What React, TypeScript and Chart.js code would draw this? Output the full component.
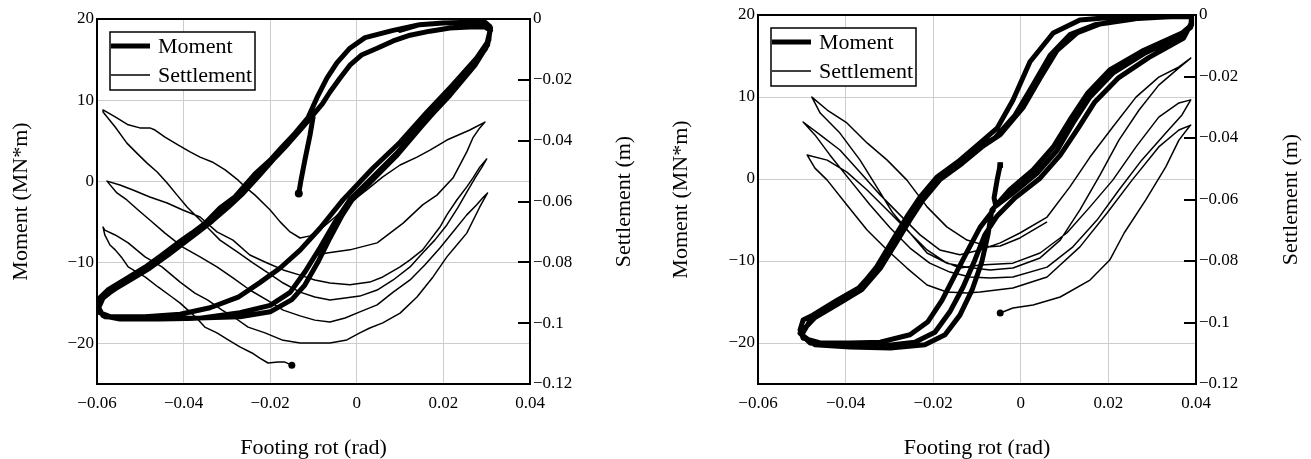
import { useEffect, useRef } from 'react';
import { Chart, registerables } from 'chart.js';

Chart.register(...registerables);

const FONT = '"Liberation Serif", "Times New Roman", serif';

const rotationTicks = [-0.06, -0.04, -0.02, 0, 0.02, 0.04];
const momentTicks = [-20, -10, 0, 10, 20];
const settlementTicks = [0, -0.02, -0.04, -0.06, -0.08, -0.1, -0.12];

const seriesLabels = ['Moment', 'Settlement'];

// ---------- Left test ----------
const leftMomentRot = [
  0.0100, 0.0145, 0.0199, 0.0261, 0.0296, 0.0307,
  0.0307, 0.0305, 0.0277, 0.0222, 0.0162, 0.0100, 0.0037, -0.0032, -0.0085, -0.0131, -0.0177, -0.0224, -0.0274, -0.0339, -0.0408, -0.0489, -0.0570, -0.0594, -0.0598,
  -0.0594, -0.0575, -0.0535, -0.0489, -0.0450, -0.0413, -0.0381, -0.0351, -0.0316, -0.0281, -0.0235, -0.0200, -0.0173, -0.0143, -0.0113, -0.0092, -0.0069, -0.0046, -0.0016, 0.0019, 0.0084, 0.0145, 0.0199, 0.0261, 0.0291, 0.0307,
  0.0309, 0.0302, 0.0273, 0.0215, 0.0157, 0.0095, 0.0035, -0.0016, -0.0050, -0.0085, -0.0120, -0.0154, -0.0200, -0.0270, -0.0362, -0.0455, -0.0547, -0.0586, -0.0596,
  -0.0586, -0.0565, -0.0524, -0.0478, -0.0436, -0.0402, -0.0367, -0.0334, -0.0297, -0.0263, -0.0224, -0.0189, -0.0159, -0.0131, -0.0104, -0.0080, -0.0062, -0.0039, -0.0016, 0.0012, 0.0047, 0.0084, 0.0123, 0.0169, 0.0215, 0.0261, 0.0296, 0.0309,
  0.0307, 0.0298, 0.0266, 0.0208, 0.0150, 0.0091, 0.0030, -0.0011, -0.0034, -0.0062, -0.0090, -0.0120, -0.0150, -0.0200, -0.0270, -0.0385, -0.0501, -0.0582, -0.0598,
  -0.0591, -0.0570, -0.0528, -0.0482, -0.0441, -0.0406, -0.0372, -0.0339, -0.0302, -0.0270, -0.0228, -0.0196, -0.0166, -0.0136, -0.0108, -0.0101, -0.0108, -0.0120, -0.0129, -0.0134,
];
const leftMomentVal = [
  18.6, 19.3, 19.5, 19.6, 19.6, 19.1,
  18.6, 17.4, 15.2, 11.9, 8.5, 4.8, 1.6, -2.3, -5.8, -8.5, -10.7, -12.5, -14.3, -15.6, -16.4, -16.7, -16.7, -16.2, -15.5,
  -14.4, -13.4, -12.1, -10.6, -9.1, -7.6, -6.4, -5.2, -3.3, -1.9, 0.9, 2.6, 4.2, 5.9, 7.8, 10.3, 12.7, 14.6, 16.4, 17.7, 18.6, 19.3, 19.5, 19.6, 19.6, 19.1,
  18.9, 16.8, 14.3, 10.6, 7.3, 3.6, 0.4, -2.3, -5.0, -8.2, -11.2, -13.7, -15.3, -16.2, -16.9, -17.0, -17.0, -16.6, -15.6,
  -14.4, -13.5, -12.2, -10.7, -9.1, -7.7, -6.3, -4.9, -3.2, -1.5, 0.8, 2.9, 4.6, 6.3, 8.0, 9.5, 11.0, 12.7, 14.3, 15.6, 16.4, 17.3, 18.0, 18.5, 18.9, 19.0, 19.0, 18.6,
  18.4, 16.4, 14.0, 10.3, 6.8, 3.1, -0.2, -2.3, -4.2, -7.0, -10.0, -12.8, -14.6, -16.1, -16.7, -16.9, -16.9, -16.7, -15.9,
  -14.6, -13.7, -12.2, -10.6, -9.1, -7.6, -6.3, -4.9, -3.3, -1.8, 0.8, 2.6, 4.3, 6.1, 7.7, 7.9, 5.7, 2.6, 0.1, -1.5,
];

const leftSettleRot = [
  -0.0092, -0.0069, -0.0016, 0.0047, 0.0107, 0.0152, 0.0185, 0.0222, 0.0254, 0.0268, 0.0284, 0.0296,
  0.0261, 0.0208, 0.0169, 0.0139, 0.0100, 0.0060, 0.0023, -0.0016, -0.0050, -0.0078, -0.0108, -0.0131, -0.0154, -0.0177, -0.0200, -0.0235, -0.0258, -0.0274, -0.0304, -0.0334, -0.0362, -0.0385, -0.0413, -0.0443, -0.0466, -0.0478, -0.0501, -0.0528, -0.0558, -0.0586,
  -0.0586, -0.0558, -0.0531, -0.0508, -0.0485, -0.0461, -0.0438, -0.0415, -0.0392, -0.0362, -0.0339, -0.0316, -0.0276, -0.0240, -0.0205, -0.0170, -0.0131, -0.0097, -0.0062, -0.0027, 0.0007, 0.0047, 0.0084, 0.0123, 0.0152, 0.0180, 0.0208, 0.0233, 0.0254, 0.0273, 0.0289, 0.0300,
  0.0284, 0.0268, 0.0254, 0.0231, 0.0208, 0.0192, 0.0169, 0.0152, 0.0123, 0.0100, 0.0060, 0.0030, -0.0016, -0.0062, -0.0097, -0.0131, -0.0170, -0.0207, -0.0247, -0.0286, -0.0323, -0.0362, -0.0402, -0.0438, -0.0478, -0.0517, -0.0547, -0.0577,
  -0.0554, -0.0531, -0.0505, -0.0478, -0.0443, -0.0402, -0.0362, -0.0323, -0.0286, -0.0247, -0.0207, -0.0170, -0.0131, -0.0097, -0.0062, -0.0027, 0.0007, 0.0047, 0.0084, 0.0123, 0.0157, 0.0192, 0.0222, 0.0254, 0.0277, 0.0291, 0.0302,
  0.0284, 0.0254, 0.0231, 0.0208, 0.0176, 0.0139, 0.0100, 0.0060, 0.0030, 0.0007, -0.0023, -0.0062, -0.0092, -0.0131, -0.0173, -0.0212, -0.0251, -0.0281, -0.0311, -0.0344, -0.0374, -0.0408, -0.0450, -0.0489, -0.0528, -0.0558, -0.0582, -0.0586,
  -0.0582, -0.0570, -0.0558, -0.0542, -0.0528, -0.0508, -0.0489, -0.0459, -0.0427, -0.0408, -0.0390, -0.0370, -0.0351, -0.0323, -0.0297, -0.0270, -0.0242, -0.0224, -0.0205, -0.0182, -0.0166, -0.0150,
];
const leftSettleVal = [
  -0.0776, -0.0769, -0.0759, -0.0736, -0.0671, -0.0611, -0.0579, -0.0523, -0.0437, -0.0391, -0.0358, -0.0339,
  -0.0365, -0.0398, -0.0431, -0.0454, -0.0480, -0.0519, -0.0562, -0.0605, -0.0651, -0.0684, -0.0713, -0.0720, -0.0700, -0.0667, -0.0628, -0.0579, -0.0552, -0.0530, -0.0496, -0.0470, -0.0454, -0.0437, -0.0414, -0.0388, -0.0365, -0.0358, -0.0358, -0.0348, -0.0322, -0.0299,
  -0.0306, -0.0355, -0.0408, -0.0441, -0.0473, -0.0503, -0.0539, -0.0579, -0.0618, -0.0661, -0.0694, -0.0727, -0.0766, -0.0802, -0.0835, -0.0868, -0.0898, -0.0914, -0.0924, -0.0917, -0.0911, -0.0891, -0.0858, -0.0815, -0.0769, -0.0727, -0.0677, -0.0621, -0.0569, -0.0523, -0.0487, -0.0460,
  -0.0487, -0.0523, -0.0552, -0.0595, -0.0644, -0.0684, -0.0727, -0.0759, -0.0792, -0.0815, -0.0848, -0.0865, -0.0874, -0.0868, -0.0858, -0.0842, -0.0825, -0.0802, -0.0776, -0.0727, -0.0700, -0.0651, -0.0628, -0.0605, -0.0585, -0.0562, -0.0546, -0.0533,
  -0.0572, -0.0595, -0.0628, -0.0661, -0.0704, -0.0750, -0.0782, -0.0815, -0.0851, -0.0891, -0.0924, -0.0957, -0.0976, -0.0990, -0.0996, -0.0983, -0.0963, -0.0940, -0.0898, -0.0858, -0.0809, -0.0753, -0.0700, -0.0644, -0.0611, -0.0588, -0.0572,
  -0.0618, -0.0704, -0.0743, -0.0782, -0.0848, -0.0914, -0.0967, -0.0999, -0.1016, -0.1032, -0.1055, -0.1065, -0.1065, -0.1065, -0.1055, -0.1032, -0.1013, -0.0983, -0.0957, -0.0924, -0.0901, -0.0865, -0.0815, -0.0782, -0.0736, -0.0710, -0.0694, -0.0684,
  -0.0710, -0.0743, -0.0759, -0.0786, -0.0815, -0.0832, -0.0848, -0.0881, -0.0914, -0.0934, -0.0957, -0.0983, -0.1013, -0.1032, -0.1055, -0.1078, -0.1098, -0.1115, -0.1131, -0.1128, -0.1128, -0.1138,
];

// ---------- Right test ----------
const rightMomentRot = [
  -0.0063, -0.0093, -0.0121, -0.0150, -0.0180, -0.0212, -0.0253, -0.0321, -0.0390, -0.0458, -0.0497, -0.0504,
  -0.0497, -0.0475, -0.0420, -0.0367, -0.0329, -0.0292, -0.0260, -0.0230, -0.0192, -0.0139, -0.0093, -0.0054, -0.0018, 0.0021, 0.0074, 0.0135, 0.0224, 0.0315, 0.0390,
  0.0390, 0.0372, 0.0292, 0.0222, 0.0169, 0.0131, 0.0090, 0.0044, -0.0013, -0.0054, -0.0082, -0.0105, -0.0132, -0.0162, -0.0196, -0.0242, -0.0321, -0.0413, -0.0481, -0.0504,
  -0.0470, -0.0413, -0.0363, -0.0321, -0.0285, -0.0253, -0.0224, -0.0185, -0.0134, -0.0089, -0.0047, 0.0005, 0.0044, 0.0083, 0.0128, 0.0181, 0.0247, 0.0338, 0.0390,
  0.0390, 0.0368, 0.0281, 0.0203, 0.0153, 0.0112, 0.0074, 0.0028, -0.0025, -0.0066, -0.0075, -0.0089, -0.0111, -0.0139, -0.0173, -0.0219, -0.0298, -0.0390, -0.0470, -0.0500,
  -0.0477, -0.0425, -0.0372, -0.0333, -0.0298, -0.0265, -0.0235, -0.0196, -0.0144, -0.0098, -0.0059, -0.0013, 0.0028, 0.0067, 0.0112, 0.0169, 0.0270, 0.0390,
  0.0388, 0.0361, 0.0285, 0.0210, 0.0158, 0.0119, 0.0083, 0.0037, -0.0018, -0.0057, -0.0061, -0.0054, -0.0047,
];
const rightMomentVal = [
  -3.8, -5.9, -8.7, -11.7, -14.8, -17.4, -19.0, -19.9, -20.0, -20.0, -19.4, -18.4,
  -17.2, -16.6, -14.8, -13.2, -10.7, -7.4, -4.6, -2.2, 0.2, 2.3, 4.4, 6.2, 9.6, 14.3, 17.8, 19.4, 19.8, 19.9, 20.0,
  19.1, 17.2, 14.8, 12.3, 9.4, 6.2, 2.9, 0.1, -2.3, -4.5, -6.8, -9.9, -13.2, -16.2, -18.7, -19.9, -20.4, -20.4, -20.0, -18.8,
  -16.9, -15.1, -13.5, -10.9, -7.8, -5.0, -2.6, -0.1, 1.9, 3.9, 5.4, 8.7, 12.3, 15.7, 17.8, 18.9, 19.5, 19.8, 19.8,
  18.8, 17.8, 15.7, 13.3, 10.5, 7.2, 3.9, 1.1, -1.3, -3.8, -6.8, -10.1, -13.5, -16.6, -19.0, -20.2, -20.6, -20.5, -20.2, -19.0,
  -16.9, -15.0, -13.4, -11.1, -8.0, -5.2, -2.6, -0.1, 1.9, 3.8, 5.0, 7.8, 11.5, 15.1, 17.6, 18.8, 19.6, 19.9,
  18.5, 17.3, 15.4, 12.9, 10.0, 6.8, 3.5, 0.7, -1.7, -3.3, -2.3, -0.1, 1.7,
];

const rightSettleRot = [
  0.0060, -0.0002, -0.0047, -0.0070, -0.0123, -0.0169, -0.0214, -0.0260, -0.0305, -0.0351, -0.0397, -0.0442, -0.0477,
  -0.0458, -0.0413, -0.0367, -0.0329, -0.0292, -0.0253, -0.0214, -0.0169, -0.0123, -0.0070, -0.0018, 0.0044, 0.0090, 0.0135, 0.0181, 0.0224, 0.0270, 0.0315, 0.0361, 0.0388,
  0.0361, 0.0315, 0.0263, 0.0210, 0.0158, 0.0112, 0.0060, -0.0002, -0.0047, -0.0093, -0.0139, -0.0185, -0.0230, -0.0276, -0.0321, -0.0367, -0.0413, -0.0458, -0.0497,
  -0.0470, -0.0436, -0.0390, -0.0344, -0.0298, -0.0253, -0.0208, -0.0162, -0.0116, -0.0070, -0.0018, 0.0060, 0.0119, 0.0174, 0.0224, 0.0276, 0.0331, 0.0368, 0.0388,
  0.0361, 0.0315, 0.0263, 0.0210, 0.0158, 0.0105, 0.0044, -0.0018, -0.0093, -0.0139, -0.0173, -0.0214, -0.0260, -0.0305, -0.0351, -0.0397, -0.0442, -0.0488,
  -0.0470, -0.0442, -0.0397, -0.0351, -0.0305, -0.0260, -0.0214, -0.0169, -0.0123, -0.0093, -0.0018, 0.0060, 0.0135, 0.0197, 0.0254, 0.0315, 0.0361, 0.0388,
  0.0384, 0.0361, 0.0331, 0.0285, 0.0236, 0.0203, 0.0158, 0.0090, 0.0028, -0.0018, -0.0047,
];
const rightSettleVal = [
  -0.0673, -0.0725, -0.0751, -0.0754, -0.0732, -0.0689, -0.0624, -0.0537, -0.0472, -0.0416, -0.0351, -0.0309, -0.0267,
  -0.0319, -0.0384, -0.0472, -0.0559, -0.0644, -0.0709, -0.0774, -0.0807, -0.0820, -0.0829, -0.0823, -0.0790, -0.0732, -0.0634, -0.0520, -0.0407, -0.0309, -0.0228, -0.0172, -0.0140,
  -0.0169, -0.0202, -0.0267, -0.0364, -0.0462, -0.0559, -0.0657, -0.0709, -0.0741, -0.0764, -0.0780, -0.0764, -0.0715, -0.0650, -0.0585, -0.0511, -0.0439, -0.0390, -0.0348,
  -0.0390, -0.0455, -0.0537, -0.0618, -0.0693, -0.0758, -0.0807, -0.0836, -0.0852, -0.0855, -0.0852, -0.0820, -0.0754, -0.0667, -0.0569, -0.0472, -0.0384, -0.0325, -0.0276,
  -0.0286, -0.0332, -0.0429, -0.0537, -0.0624, -0.0709, -0.0774, -0.0807, -0.0813, -0.0823, -0.0803, -0.0764, -0.0699, -0.0634, -0.0569, -0.0511, -0.0472, -0.0455,
  -0.0498, -0.0537, -0.0618, -0.0699, -0.0764, -0.0823, -0.0878, -0.0901, -0.0904, -0.0901, -0.0888, -0.0852, -0.0754, -0.0644, -0.0537, -0.0429, -0.0374, -0.0358,
  -0.0364, -0.0407, -0.0494, -0.0602, -0.0709, -0.0797, -0.0862, -0.0917, -0.0943, -0.0953, -0.0969,
];

function fmt(v: number): string {
  const r = Math.round(v * 1000) / 1000;
  if (r === 0) return '0';
  return String(r).replace('-', '\u2212');
}

function toPoints(xs: number[], ys: number[]) {
  return xs.map((x, i) => ({ x, y: ys[i] }));
}

const extrasPlugin = {
  id: 'extras',
  afterDraw(chart: any, _args: any, opts: any) {
    const { ctx, chartArea: a, scales } = chart;
    ctx.save();
    ctx.strokeStyle = '#000';
    // inner ticks of the right axis
    ctx.lineWidth = 2;
    const y2 = scales.y2;
    y2.ticks.forEach((t: any) => {
      const py = Math.round(y2.getPixelForValue(t.value));
      ctx.beginPath();
      ctx.moveTo(a.right - 12, py);
      ctx.lineTo(a.right, py);
      ctx.stroke();
    });
    // frame
    ctx.lineWidth = 2;
    ctx.strokeRect(a.left, a.top, a.right - a.left, a.bottom - a.top);
    // right axis title (reads bottom to top)
    ctx.fillStyle = '#000';
    ctx.font = `22px ${FONT}`;
    ctx.textAlign = 'center';
    ctx.textBaseline = 'middle';
    ctx.save();
    ctx.translate(opts.rightTitleX, (a.top + a.bottom) / 2);
    ctx.rotate(-Math.PI / 2);
    ctx.fillText(opts.rightTitle, 0, 0);
    ctx.restore();
    // legend box
    const bx = a.left + 13;
    const by = a.top + 13;
    const bw = 145;
    const bh = 58;
    ctx.fillStyle = '#fff';
    ctx.fillRect(bx, by, bw, bh);
    ctx.lineWidth = 1.5;
    ctx.strokeRect(bx, by, bw, bh);
    const ds = chart.data.datasets;
    const rows = [by + 14, by + 43];
    ds.forEach((d: any, i: number) => {
      ctx.beginPath();
      ctx.lineWidth = i === 0 ? 5 : 1.5;
      ctx.lineCap = 'butt';
      ctx.moveTo(bx + 1, rows[i]);
      ctx.lineTo(bx + 40, rows[i]);
      ctx.stroke();
      ctx.fillStyle = '#000';
      ctx.textAlign = 'left';
      ctx.textBaseline = 'middle';
      ctx.font = `22px ${FONT}`;
      ctx.fillText(d.label, bx + 48, rows[i] + 1);
    });
    ctx.restore();
  },
};

interface PanelProps {
  momentRot: number[];
  momentVal: number[];
  settleRot: number[];
  settleVal: number[];
  yWidth: number;
  y2Width: number;
  top: number;
  yTitlePad: number;
  rightTitleX: number;
  markerStyle: string;
}

function makeConfig(p: PanelProps): any {
  const nM = p.momentRot.length;
  const nS = p.settleRot.length;
  const tickFont = { family: FONT, size: 17 };
  const titleFont = { family: FONT, size: 22, lineHeight: 1 };
  const gridColor = '#cdcdcd';
  return {
    type: 'scatter',
    data: {
      datasets: [
        {
          label: seriesLabels[0],
          data: toPoints(p.momentRot, p.momentVal),
          yAxisID: 'y',
          showLine: true,
          borderColor: '#000',
          backgroundColor: '#000',
          borderWidth: 5,
          borderJoinStyle: 'round',
          borderCapStyle: 'round',
          tension: 0,
          pointRadius: (c: any) => (c.dataIndex === nM - 1 ? 4 : 0),
          pointStyle: p.markerStyle,
          pointBorderWidth: 0,
          pointBackgroundColor: '#000',
        },
        {
          label: seriesLabels[1],
          data: toPoints(p.settleRot, p.settleVal),
          yAxisID: 'y2',
          showLine: true,
          borderColor: '#000',
          backgroundColor: '#000',
          borderWidth: 1.5,
          borderJoinStyle: 'round',
          tension: 0,
          pointRadius: (c: any) => (c.dataIndex === nS - 1 ? 3.5 : 0),
          pointBorderWidth: 0,
          pointBackgroundColor: '#000',
        },
      ],
    },
    options: {
      responsive: false,
      maintainAspectRatio: false,
      animation: false,
      devicePixelRatio: 1,
      layout: { padding: { top: p.top, left: 0, right: 0, bottom: 0 } },
      plugins: {
        legend: { display: false },
        tooltip: { enabled: false },
        extras: { rightTitle: 'Settlement (m)', rightTitleX: p.rightTitleX },
      },
      scales: {
        x: {
          type: 'linear',
          min: -0.06,
          max: 0.04,
          afterBuildTicks: (s: any) => {
            s.ticks = rotationTicks.map((v) => ({ value: v }));
          },
          afterFit: (s: any) => {
            s.height = 75;
          },
          ticks: {
            autoSkip: false,
            maxRotation: 0,
            padding: 9,
            color: '#000',
            font: tickFont,
            callback: (v: any) => fmt(Number(v)),
          },
          grid: { color: gridColor, lineWidth: 1, drawTicks: false },
          border: { display: false },
          title: {
            display: true,
            text: 'Footing rot (rad)',
            color: '#000',
            font: titleFont,
            padding: { top: 0, bottom: 0 },
          },
        },
        y: {
          type: 'linear',
          position: 'left',
          min: -25,
          max: 20,
          afterBuildTicks: (s: any) => {
            s.ticks = momentTicks.map((v) => ({ value: v }));
          },
          afterFit: (s: any) => {
            s.width = p.yWidth;
          },
          ticks: {
            autoSkip: false,
            padding: 3,
            color: '#000',
            font: tickFont,
            callback: (v: any) => fmt(Number(v)),
          },
          grid: { color: gridColor, lineWidth: 1, drawTicks: false },
          border: { display: false },
          title: {
            display: true,
            text: 'Moment (MN*m)',
            color: '#000',
            font: titleFont,
            padding: { top: p.yTitlePad, bottom: 0 },
          },
        },
        y2: {
          type: 'linear',
          position: 'right',
          min: -0.12,
          max: 0,
          afterBuildTicks: (s: any) => {
            s.ticks = settlementTicks.map((v) => ({ value: v }));
          },
          afterFit: (s: any) => {
            s.width = p.y2Width;
          },
          ticks: {
            autoSkip: false,
            padding: 3,
            color: '#000',
            font: tickFont,
            callback: (v: any) => fmt(Number(v)),
          },
          grid: { drawOnChartArea: false, drawTicks: false },
          border: { display: false },
        },
      },
    },
    plugins: [extrasPlugin],
  };
}

export default function App() {
  const leftRef = useRef<HTMLCanvasElement>(null);
  const rightRef = useRef<HTMLCanvasElement>(null);

  useEffect(() => {
    const c1 = new Chart(
      leftRef.current as HTMLCanvasElement,
      makeConfig({
        momentRot: leftMomentRot,
        momentVal: leftMomentVal,
        settleRot: leftSettleRot,
        settleVal: leftSettleVal,
        yWidth: 97,
        y2Width: 125,
        top: 19,
        yTitlePad: 10,
        rightTitleX: 624,
        markerStyle: 'circle',
      })
    );
    const c2 = new Chart(
      rightRef.current as HTMLCanvasElement,
      makeConfig({
        momentRot: rightMomentRot,
        momentVal: rightMomentVal,
        settleRot: rightSettleRot,
        settleVal: rightSettleVal,
        yWidth: 103,
        y2Width: 115,
        top: 15,
        yTitlePad: 15,
        rightTitleX: 636,
        markerStyle: 'rect',
      })
    );
    return () => {
      c1.destroy();
      c2.destroy();
    };
  }, []);

  return (
    <div style={{ position: 'absolute', left: 0, top: 0, width: 1311, height: 459, background: '#fff' }}>
      <canvas ref={leftRef} width={655} height={459} style={{ position: 'absolute', left: 0, top: 0 }} />
      <canvas ref={rightRef} width={656} height={459} style={{ position: 'absolute', left: 655, top: 0 }} />
    </div>
  );
}
